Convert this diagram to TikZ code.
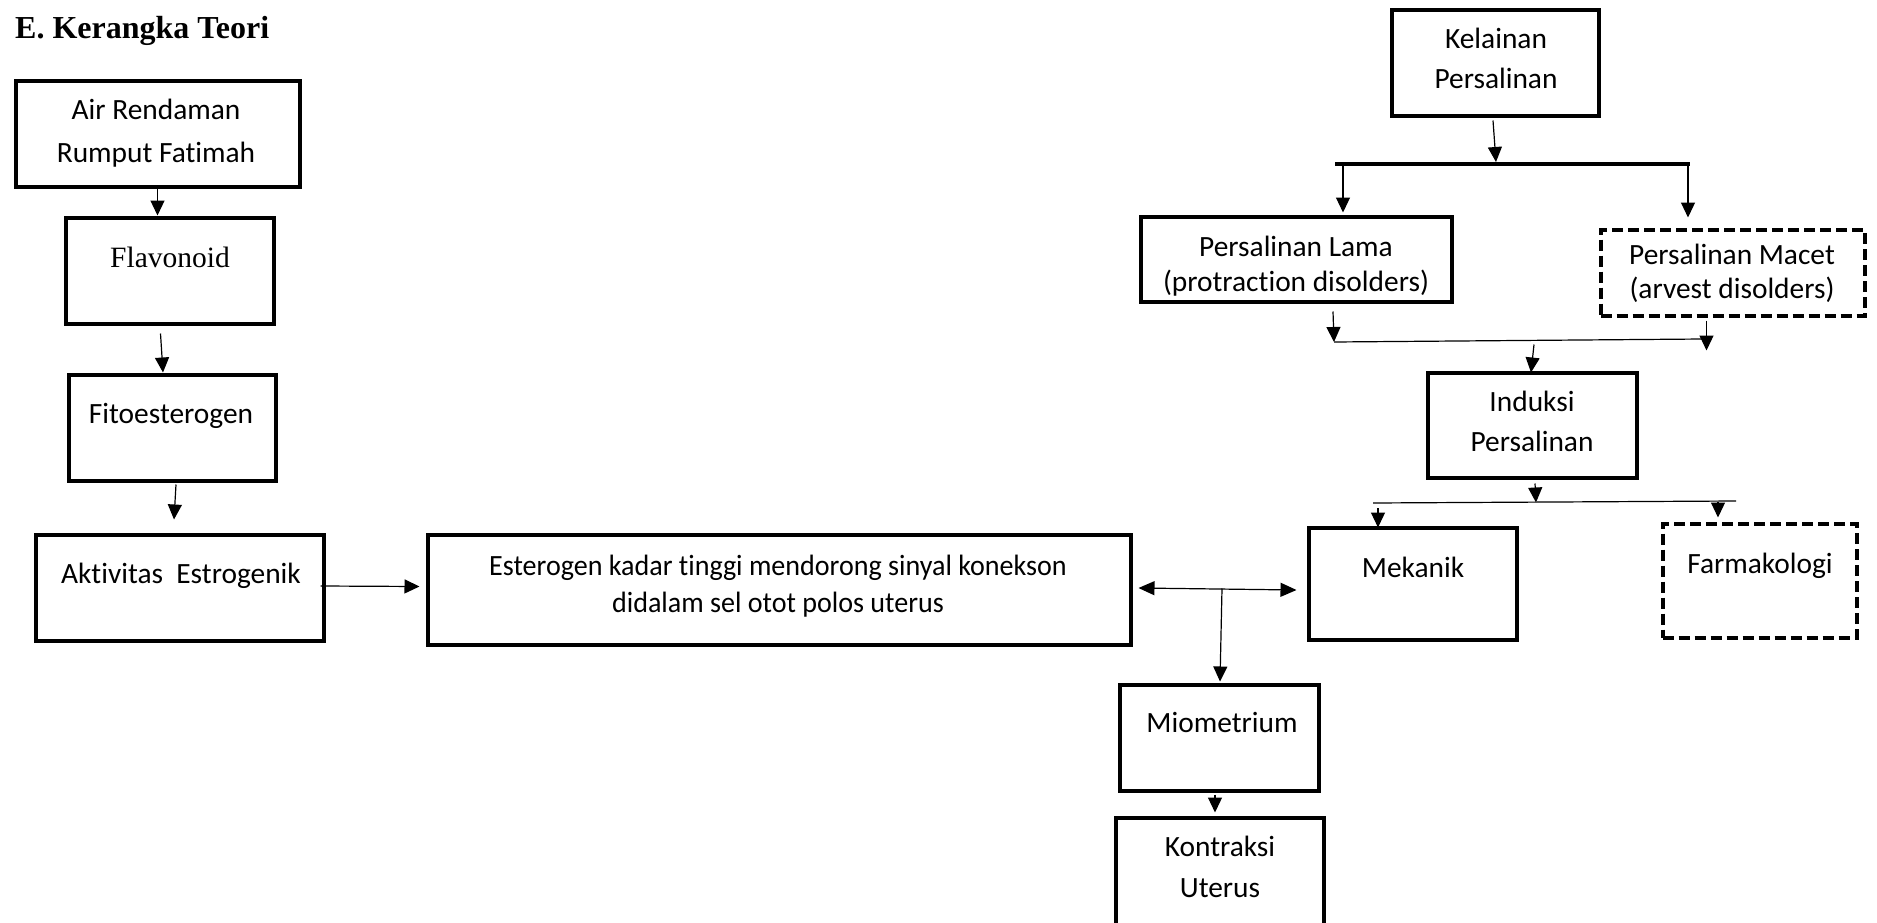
\documentclass[tikz,border=0pt]{standalone}
\usepackage{fontspec}
\setmainfont{Carlito}[Ligatures={NoCommon}]
\newfontfamily\tnr{Liberation Serif}
\usetikzlibrary{arrows.meta,calc}
\begin{document}
\begin{tikzpicture}[x=1pt,y=-1pt,
  box/.style={draw, line width=4pt, inner sep=0pt},
  dbox/.style={box, dash pattern=on 11pt off 5pt},
  txt/.style={inner sep=0pt, anchor=base, font=\fontsize{29.4}{34}\selectfont},
  arr/.style={line width=1.2pt, -{Triangle[length=15pt,width=14pt]}},
  arrb/.style={line width=1.2pt, {Triangle[length=16pt,width=14pt]}-{Triangle[length=16pt,width=14pt]}},
  ln/.style={line width=1.2pt}]
\useasboundingbox (0,0) rectangle (1877,923);
% title
\node[inner sep=0pt, anchor=base west, font=\tnr\bfseries\fontsize{32}{36}\selectfont] (title) at (15,39) {E. Kerangka Teori};
% boxes
\node[box, minimum width=284pt, minimum height=105pt] (air) at (157.5,134) {};
\node[box, minimum width=208pt, minimum height=106pt] (flav) at (169.5,270.5) {};
\node[box, minimum width=207pt, minimum height=106pt] (fito) at (172,427.5) {};
\node[box, minimum width=288pt, minimum height=106pt] (akt) at (179.5,587.5) {};
\node[box, minimum width=703pt, minimum height=110pt] (est) at (779,589.5) {};
\node[box, minimum width=199pt, minimum height=106pt] (miom) at (1219,737.5) {};
\node[box, minimum width=208pt, minimum height=121pt] (kon) at (1219.5,878) {};
\node[box, minimum width=207pt, minimum height=106pt] (kel) at (1495,63.5) {};
\node[box, minimum width=311pt, minimum height=85pt] (lama) at (1296,259) {};
\node[dbox, minimum width=264pt, minimum height=86pt] (macet) at (1732.5,272.5) {};
\node[box, minimum width=209pt, minimum height=105pt] (ind) at (1532,425) {};
\node[box, minimum width=208pt, minimum height=112pt] (mek) at (1412.5,583.5) {};
\node[dbox, minimum width=194pt, minimum height=114pt] (farm) at (1759.5,580.5) {};
% texts
\node[txt] (tair1) at (156,120) {Air Rendaman};
\node[txt] (tair2) at (156,162) {Rumput Fatimah};
\node[txt, font=\tnr\fontsize{29.5}{34}\selectfont] (tflav) at (170,267) {Flavonoid};
\node[txt] (tfito) at (171,423) {Fitoesterogen};
\node[txt] (takt) at (181,583) {Aktivitas\ \ Estrogenik};
\node[txt] (test1) at (778,575) {\scalebox{0.955}[1]{Esterogen kadar tinggi mendorong sinyal konekson}};
\node[txt] (test2) at (778,612) {\scalebox{0.955}[1]{didalam sel otot polos uterus}};
\node[txt] (tmiom) at (1222,732) {Miometrium};
\node[txt] (tkon1) at (1220,856) {Kontraksi};
\node[txt] (tkon2) at (1220,897) {Uterus};
\node[txt] (tkel1) at (1496,49) {Kelainan};
\node[txt] (tkel2) at (1496,89) {Persalinan};
\node[txt] (tlama1) at (1296,256) {Persalinan Lama};
\node[txt] (tlama2) at (1296,291) {(protraction disolders)};
\node[txt] (tmac1) at (1732,264) {Persalinan Macet};
\node[txt] (tmac2) at (1732,298) {(arvest disolders)};
\node[txt] (tind1) at (1532,411) {Induksi};
\node[txt] (tind2) at (1532,451) {Persalinan};
\node[txt] (tmek) at (1413,577) {Mekanik};
\node[txt] (tfarm) at (1760,573) {Farmakologi};
% junction coordinates
\coordinate (barL) at (1335,164);
\coordinate (barR) at (1690,164);
\coordinate (barM) at (1496,162);
\coordinate (barLa) at (1343,164);
\coordinate (barRa) at (1688,164);
\coordinate (m1) at (1334,342);
\coordinate (m2) at (1703,339);
\coordinate (n1) at (1373,503);
\coordinate (n2) at (1736,501);
\coordinate (n1a) at (1378,508);
\coordinate (n2a) at (1718,502);
\coordinate (j) at (1222,588.5);
% left chain
\draw[arr] (air.south) -- (air.south |- flav.north);
\draw[arr] ($(flav.south)+(-9,8)$) -- ($(fito.north)+(-9,0)$);
\draw[arr] ($(fito.south)+(4,2)$) -- ($(akt.north)+(-5.5,-13)$);
\draw[arr] ($(akt.east)+(-5,-1.5)$) -- ($(est.west)+(-6,-3)$);
% centre
\draw[arrb] ($(est.east)+(6,-1.5)$) -- ($(mek.west)+(-10,6.5)$);
\draw[arr] (j) -- ($(miom.north)+(1,-1)$);
\draw[arr] ($(miom.south)+(-4,2)$) -- ($(kon.north)+(-4.5,-3)$);
% right tree
\draw[line width=3.5pt] (barL) -- (barR);
\draw[arr] ($(kel.south)+(-2,2)$) -- (barM);
\draw[arr] (barLa) -- ($(barLa |- lama.north)+(0,-2)$);
\draw[arr] (barRa) -- ($(barRa |- macet.north)+(0,-10)$);
\draw[ln] (m1) -- (m2);
\draw[arr] ($(lama.south)+(37,8)$) -- (m1);
\draw[arr] ($(macet.south)+(-26,3)$) -- ($(macet.south)+(-26,33)$);
\draw[arr] ($(ind.north)+(2,-26)$) -- ($(ind.north)+(-1,2)$);
\draw[arr] ($(ind.south)+(3,4)$) -- ($(ind.south)+(4,23)$);
\draw[ln] (n1) -- (n2);
\draw[arr] (n1a) -- ($(n1a |- mek.north)+(0,2)$);
\draw[arr] (n2a) -- ($(n2a |- farm.north)+(0,-4)$);
\end{tikzpicture}
\end{document}
